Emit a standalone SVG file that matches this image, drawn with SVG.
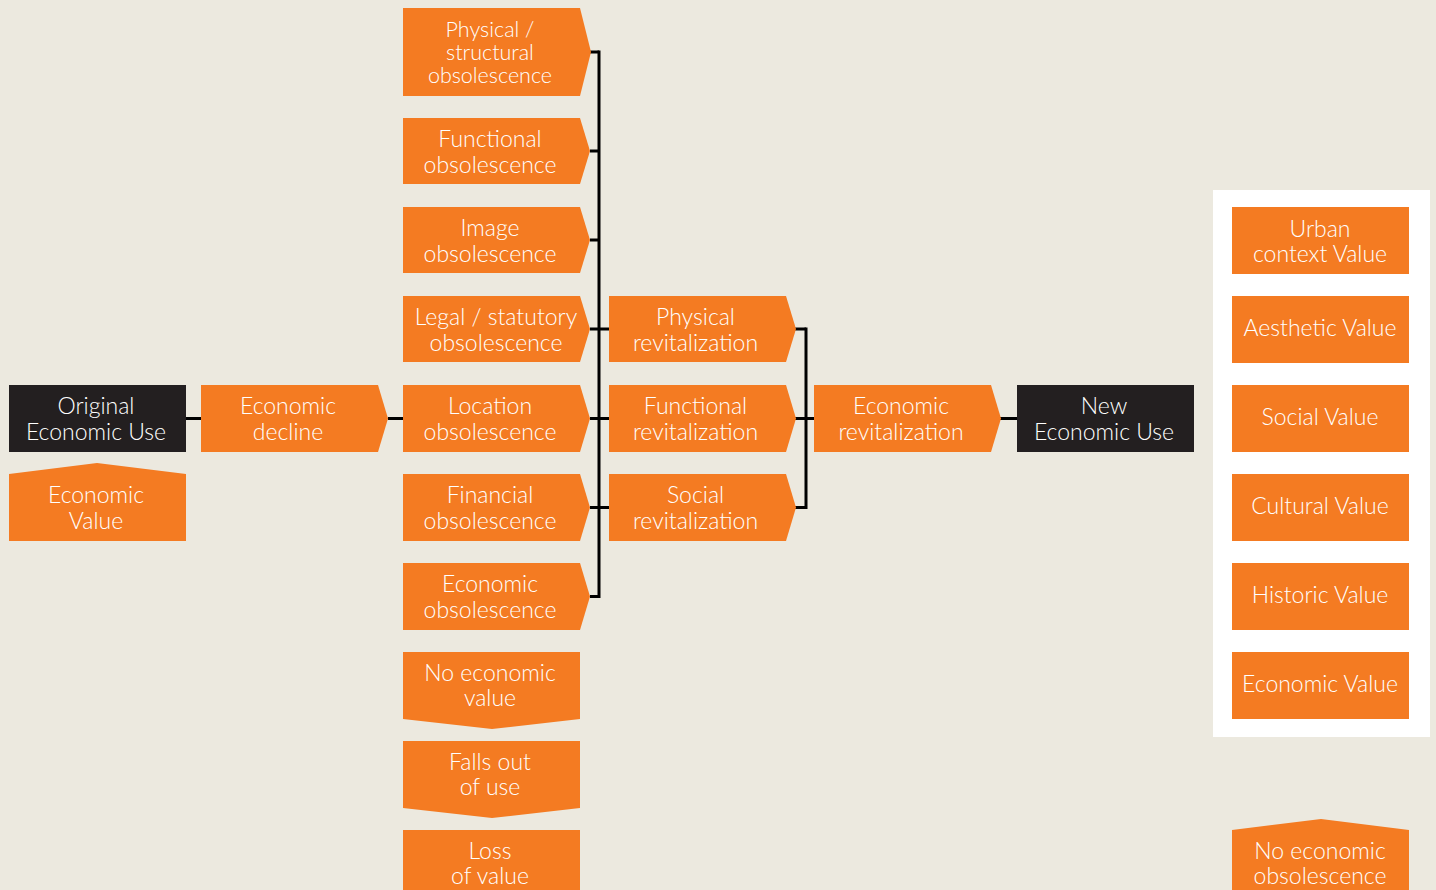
<svg xmlns="http://www.w3.org/2000/svg" width="1436" height="890" viewBox="0 0 1436 890">
<style>
.o{fill:#F47B22}
.d{fill:#231F20}
text{font-family:Lato,"Liberation Sans",sans-serif;font-weight:300;font-size:23px;fill:#FFFFFF;text-anchor:middle}
.s{font-size:21.5px}
.c line{stroke:#000;stroke-width:3}
</style>
<rect width="1436" height="890" fill="#ECE9DF"/>
<rect x="1213" y="190" width="217" height="547" fill="#FFFFFF"/>

<g class="c" id="connectors">
<line x1="186" y1="418.5" x2="201" y2="418.5"/>
<line x1="388" y1="418.5" x2="403" y2="418.5"/>
<line x1="590" y1="52" x2="599" y2="52"/>
<line x1="590" y1="151" x2="599" y2="151"/>
<line x1="590" y1="240" x2="599" y2="240"/>
<line x1="590" y1="329" x2="609" y2="329"/>
<line x1="590" y1="418.5" x2="609" y2="418.5"/>
<line x1="590" y1="507.5" x2="609" y2="507.5"/>
<line x1="590" y1="596.5" x2="599" y2="596.5"/>
<line x1="599" y1="50.5" x2="599" y2="598"/>
<line x1="795" y1="329" x2="806" y2="329"/>
<line x1="795" y1="418.5" x2="814" y2="418.5"/>
<line x1="795" y1="507.5" x2="806" y2="507.5"/>
<line x1="806" y1="327.5" x2="806" y2="509"/>
<line x1="1000" y1="418.5" x2="1017" y2="418.5"/>
</g>

<g id="original-use">
<rect class="d" x="9" y="385" width="177" height="67"/>
<text x="96" y="414">Original</text>
<text x="96" y="440">Economic Use</text>
</g>
<g id="economic-value-left">
<polygon class="o" points="9,474 97,463 186,474 186,541 9,541"/>
<text x="96" y="503">Economic</text>
<text x="96" y="529">Value</text>
</g>
<g id="economic-decline">
<polygon class="o" points="201,385 378,385 388,418.5 378,452 201,452"/>
<text x="288" y="414">Economic</text>
<text x="288" y="440">decline</text>
</g>

<g id="physical-obsolescence">
<polygon class="o" points="403,8 580,8 591,52 580,96 403,96"/>
<text class="s" x="490" y="37">Physical /</text>
<text class="s" x="490" y="60">structural</text>
<text class="s" x="490" y="83">obsolescence</text>
</g>
<g id="functional-obsolescence">
<polygon class="o" points="403,118 580,118 590,151 580,184 403,184"/>
<text x="490" y="147">Functional</text>
<text x="490" y="173">obsolescence</text>
</g>
<g id="image-obsolescence">
<polygon class="o" points="403,207 580,207 590,240 580,273 403,273"/>
<text x="490" y="236">Image</text>
<text x="490" y="262">obsolescence</text>
</g>
<g id="legal-obsolescence">
<polygon class="o" points="403,296 580,296 590,329 580,362 403,362"/>
<text x="496" y="325">Legal / statutory</text>
<text x="496" y="351">obsolescence</text>
</g>
<g id="location-obsolescence">
<polygon class="o" points="403,385 580,385 590,418.5 580,452 403,452"/>
<text x="490" y="414">Location</text>
<text x="490" y="440">obsolescence</text>
</g>
<g id="financial-obsolescence">
<polygon class="o" points="403,474 580,474 590,507.5 580,541 403,541"/>
<text x="490" y="503">Financial</text>
<text x="490" y="529">obsolescence</text>
</g>
<g id="economic-obsolescence">
<polygon class="o" points="403,563 580,563 590,596.5 580,630 403,630"/>
<text x="490" y="592">Economic</text>
<text x="490" y="618">obsolescence</text>
</g>
<g id="no-economic-value">
<polygon class="o" points="403,652 580,652 580,719 492,729 403,719"/>
<text x="490" y="681">No economic</text>
<text x="490" y="706">value</text>
</g>
<g id="falls-out-of-use">
<polygon class="o" points="403,741 580,741 580,808 492,818 403,808"/>
<text x="490" y="770">Falls out</text>
<text x="490" y="795">of use</text>
</g>
<g id="loss-of-value">
<rect class="o" x="403" y="830" width="177" height="70"/>
<text x="490" y="859">Loss</text>
<text x="490" y="884">of value</text>
</g>

<g id="physical-revitalization">
<polygon class="o" points="609,296 786,296 796,329 786,362 609,362"/>
<text x="695.5" y="325">Physical</text>
<text x="695.5" y="351">revitalization</text>
</g>
<g id="functional-revitalization">
<polygon class="o" points="609,385 786,385 796,418.5 786,452 609,452"/>
<text x="695.5" y="414">Functional</text>
<text x="695.5" y="440">revitalization</text>
</g>
<g id="social-revitalization">
<polygon class="o" points="609,474 786,474 796,507.5 786,541 609,541"/>
<text x="695.5" y="503">Social</text>
<text x="695.5" y="529">revitalization</text>
</g>

<g id="economic-revitalization">
<polygon class="o" points="814,385 991,385 1001,418.5 991,452 814,452"/>
<text x="901" y="414">Economic</text>
<text x="901" y="440">revitalization</text>
</g>
<g id="new-use">
<rect class="d" x="1017" y="385" width="177" height="67"/>
<text x="1104" y="414">New</text>
<text x="1104" y="440">Economic Use</text>
</g>

<g id="urban-value">
<rect class="o" x="1232" y="207" width="177" height="67"/>
<text x="1320" y="237">Urban</text>
<text x="1320" y="262">context Value</text>
</g>
<g id="aesthetic-value">
<rect class="o" x="1232" y="296" width="177" height="67"/>
<text x="1320" y="336">Aesthetic Value</text>
</g>
<g id="social-value">
<rect class="o" x="1232" y="385" width="177" height="67"/>
<text x="1320" y="425">Social Value</text>
</g>
<g id="cultural-value">
<rect class="o" x="1232" y="474" width="177" height="67"/>
<text x="1320" y="514">Cultural Value</text>
</g>
<g id="historic-value">
<rect class="o" x="1232" y="563" width="177" height="67"/>
<text x="1320" y="603">Historic Value</text>
</g>
<g id="economic-value-right">
<rect class="o" x="1232" y="652" width="177" height="67"/>
<text x="1320" y="692">Economic Value</text>
</g>
<g id="no-economic-obsolescence">
<polygon class="o" points="1232,830 1321,819 1409,830 1409,900 1232,900"/>
<text x="1320" y="859">No economic</text>
<text x="1320" y="884">obsolescence</text>
</g>
</svg>
